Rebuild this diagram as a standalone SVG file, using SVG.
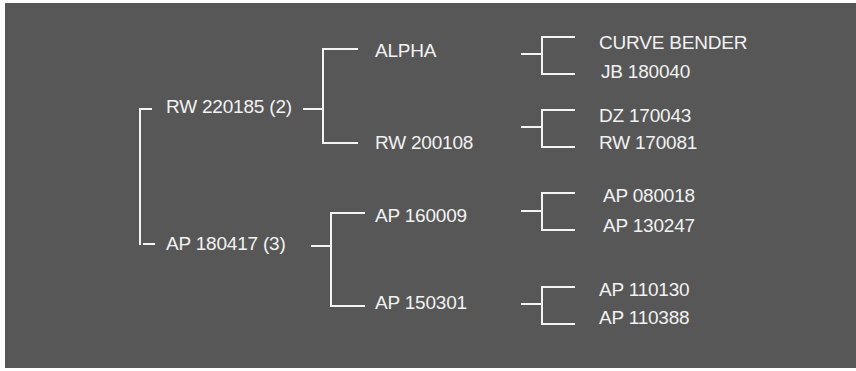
<svg xmlns="http://www.w3.org/2000/svg" width="856" height="371" viewBox="0 0 856 371">
<style>
.ln{stroke:#f4f4f4;stroke-width:2;fill:none}
.t{font-family:"Liberation Sans",Arial,sans-serif;font-size:19px;letter-spacing:-0.2px;fill:#f2f2f2}
</style>
<rect x="0" y="0" width="856" height="371" fill="#ffffff"/>
<rect x="5" y="3" width="851" height="365" fill="#575757"/>
<g id="connectors">
<path class="ln" d="M152 109H140V245M143 244H155"/>
<path class="ln" d="M303 109H323M358 49H323V143H358"/>
<path class="ln" d="M311 246H331M365 213H331V306H365"/>
<path class="ln" d="M521 54H542M575 37H542V74H575"/>
<path class="ln" d="M521 127H542M575 110H542V147H575"/>
<path class="ln" d="M521 211H542M575 193H542V230H575"/>
<path class="ln" d="M521 304H542M575 287H542V324H575"/>
</g>
<g id="n-rw220185"><text class="t" x="166" y="113">RW 220185 (2)</text></g>
<g id="n-ap180417"><text class="t" x="166" y="250">AP 180417 (3)</text></g>
<g id="n-alpha"><text class="t" x="375" y="57">ALPHA</text></g>
<g id="n-rw200108"><text class="t" x="375" y="149">RW 200108</text></g>
<g id="n-ap160009"><text class="t" x="375" y="222">AP 160009</text></g>
<g id="n-ap150301"><text class="t" x="375" y="309">AP 150301</text></g>
<g id="n-curvebender"><text class="t" x="599" y="49">CURVE BENDER</text></g>
<g id="n-jb180040"><text class="t" x="601" y="78">JB 180040</text></g>
<g id="n-dz170043"><text class="t" x="599" y="122">DZ 170043</text></g>
<g id="n-rw170081"><text class="t" x="599" y="149">RW 170081</text></g>
<g id="n-ap080018"><text class="t" x="603" y="202">AP 080018</text></g>
<g id="n-ap130247"><text class="t" x="603" y="232">AP 130247</text></g>
<g id="n-ap110130"><text class="t" x="599" y="296">AP 110130</text></g>
<g id="n-ap110388"><text class="t" x="599" y="324">AP 110388</text></g>
</svg>
